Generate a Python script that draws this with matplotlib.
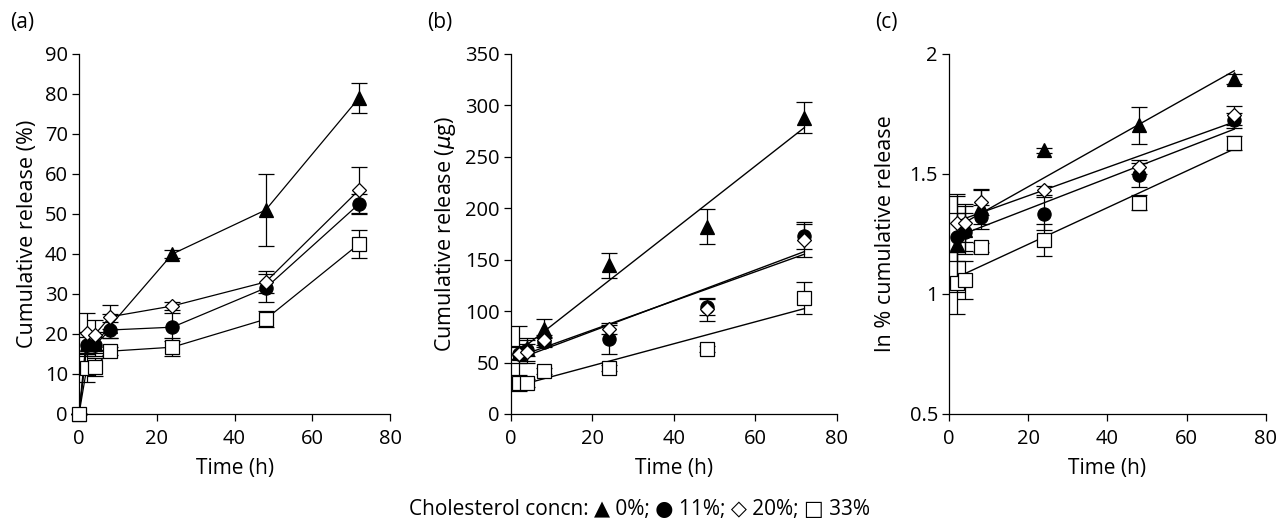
import numpy as np
import matplotlib.pyplot as plt

plt.rcParams['font.family'] = ['Open Sans', 'DejaVu Sans']
plt.rcParams['font.size'] = 14

# (a) cumulative release (%), time points incl. zero
time_a = [0, 2, 4, 8, 24, 48, 72]
pct_0 = [0, 17.5, 17.5, 22, 40, 51, 79]
pct_11 = [0, 17.2, 17.2, 21, 21.7, 31.5, 52.5]
pct_20 = [0, 20.2, 19.8, 24.3, 27, 33, 56]
pct_33 = [0, 11.6, 11.8, 15.7, 16.7, 23.7, 42.5]
err_pct_0 = [0, 3, 3, 3, 1, 9, 3.7]
err_pct_11 = [0, 2, 2, 2, 3.5, 3.5, 2.5]
err_pct_20 = [0, 5, 3.7, 3, 1, 2.8, 5.7]
err_pct_33 = [0, 3.5, 2.3, 1, 2.2, 2, 3.5]

# (b) cumulative release (ug)
time_b = [2, 4, 8, 24, 48, 72]
ug_0 = [59, 64, 83, 144.5, 182, 288]
ug_11 = [58, 62, 70, 72.5, 104, 173.5]
ug_20 = [58, 60, 72, 83, 101.6, 169]
ug_33 = [30, 30, 42, 44.5, 63, 113]
err_ug_0 = [6, 8, 9, 12, 17, 15]
err_ug_11 = [28, 12, 5, 14, 8, 13]
err_ug_20 = [8, 8, 5, 5, 11, 16]
err_ug_33 = [8, 4, 3, 3, 3, 15.5]

# (c) ln % cumulative release
ln_0 = [1.21, 1.266, 1.363, 1.598, 1.702, 1.896]
ln_11 = [1.238, 1.259, 1.321, 1.335, 1.494, 1.723]
ln_20 = [1.296, 1.296, 1.384, 1.432, 1.529, 1.744]
ln_33 = [1.047, 1.058, 1.194, 1.224, 1.381, 1.629]
err_ln_0 = [0.2, 0.1, 0.07, 0.01, 0.078, 0.02]
err_ln_11 = [0.1, 0.08, 0.05, 0.07, 0.05, 0.03]
err_ln_20 = [0.12, 0.08, 0.055, 0.02, 0.03, 0.04]
err_ln_33 = [0.13, 0.08, 0.02, 0.066, 0.03, 0.03]

styles = [
    dict(marker='^', mfc='black', ms=10),
    dict(marker='o', mfc='black', ms=9.5),
    dict(marker='D', mfc='white', ms=7.5),
    dict(marker='s', mfc='white', ms=9.5),
]

fig = plt.figure(figsize=(12.79, 5.22), dpi=100)
ax_a = fig.add_axes([0.0618, 0.2069, 0.2432, 0.6897])
ax_b = fig.add_axes([0.3995, 0.2069, 0.2549, 0.6897])
ax_c = fig.add_axes([0.742, 0.2069, 0.2478, 0.6897])


def style_axes(ax):
    for s in ['top', 'right']:
        ax.spines[s].set_visible(False)
    for s in ['left', 'bottom']:
        ax.spines[s].set_linewidth(0.9)
    ax.tick_params(direction='out', length=5, width=0.9, labelsize=14.5)
    ax.tick_params(axis='x', pad=6)
    ax.tick_params(axis='y', pad=3)
    ax.set_xlim(0, 80)
    ax.set_xticks([0, 20, 40, 60, 80])
    ax.set_xlabel('Time (h)', fontsize=15, labelpad=6)


def draw(ax, x, ys, errs, fit):
    for y, e, st in zip(ys, errs, styles):
        ax.errorbar(x, y, yerr=e, fmt='none', ecolor='black', elinewidth=0.9,
                    capsize=6, capthick=0.9, zorder=2, clip_on=False)
        if fit:
            k, b = np.polyfit(x, y, 1)
            xx = np.array([x[0], x[-1]])
            ax.plot(xx, k * xx + b, color='black', lw=1.0, zorder=3)
            ax.plot(x, y, ls='none', color='black', mec='black', mew=0.9,
                    zorder=4, clip_on=False, **st)
        else:
            ax.plot(x, y, color='black', lw=0.9, mec='black', mew=0.9,
                    zorder=4, clip_on=False, **st)


draw(ax_a, time_a, [pct_0, pct_11, pct_20, pct_33],
     [err_pct_0, err_pct_11, err_pct_20, err_pct_33], fit=False)
draw(ax_b, time_b, [ug_0, ug_11, ug_20, ug_33],
     [err_ug_0, err_ug_11, err_ug_20, err_ug_33], fit=True)
draw(ax_c, time_b, [ln_0, ln_11, ln_20, ln_33],
     [err_ln_0, err_ln_11, err_ln_20, err_ln_33], fit=True)

for ax in [ax_a, ax_b, ax_c]:
    style_axes(ax)

ax_a.set_ylim(0, 90)
ax_a.set_yticks(range(0, 91, 10))
ax_a.set_ylabel('Cumulative release (%)', fontsize=15.5, labelpad=5)

ax_b.set_ylim(0, 350)
ax_b.set_yticks(range(0, 351, 50))
ax_b.set_ylabel('Cumulative release ($\\mu$g)', fontsize=15.5, labelpad=5)

ax_c.set_ylim(0.5, 2)
ax_c.set_yticks([0.5, 1, 1.5, 2])
ax_c.set_yticklabels(['0.5', '1', '1.5', '2'])
ax_c.set_ylabel('ln % cumulative release', fontsize=15.5, labelpad=10)

fig.text(0.008, 0.956, '(a)', fontsize=15, va='center')
fig.text(0.334, 0.956, '(b)', fontsize=15, va='center')
fig.text(0.684, 0.956, '(c)', fontsize=15, va='center')

fig.text(0.5, 0.024,
         'Cholesterol concn: \u25b2 0%; \u25cf 11%; \u25c7 20%; \u25a1 33%',
         fontsize=15, ha='center', va='center')

fig.savefig('out.png', dpi=100)
